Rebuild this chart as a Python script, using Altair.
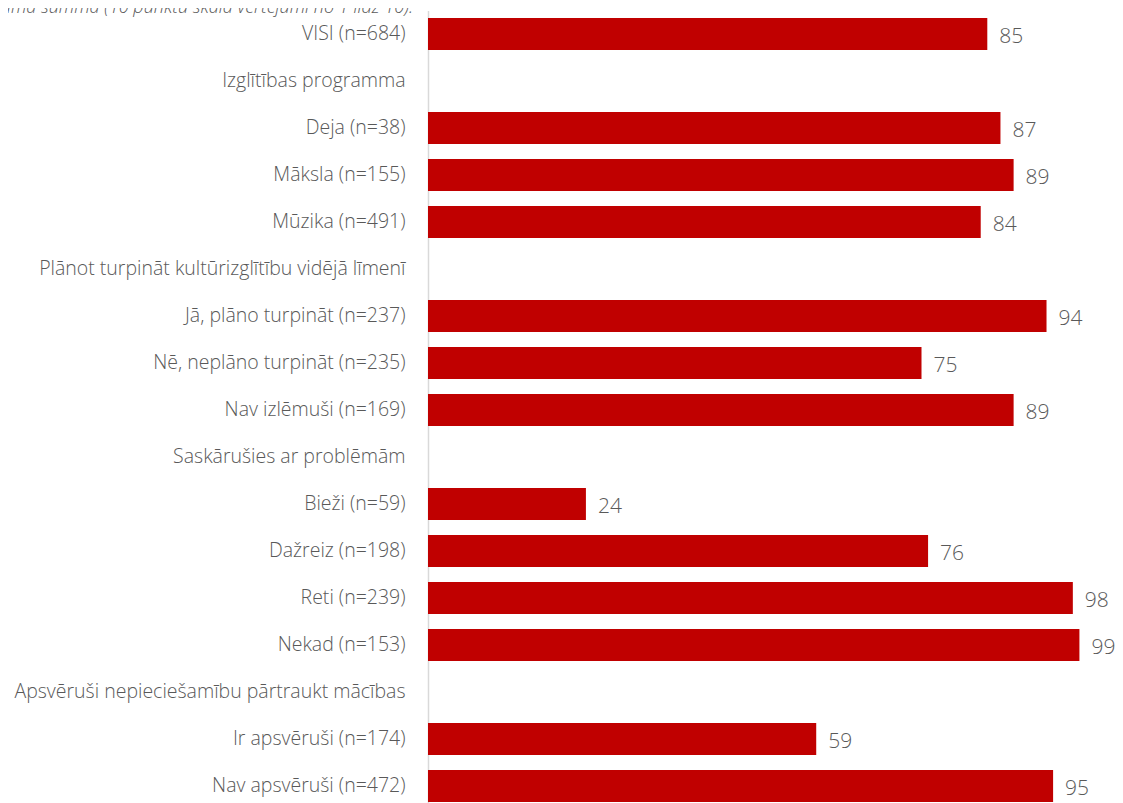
import altair as alt
import pandas as pd

categories = [
    "VISI (n=684)",
    "Izglītības programma",
    "Deja (n=38)",
    "Māksla (n=155)",
    "Mūzika (n=491)",
    "Plānot turpināt kultūrizglītību vidējā līmenī",
    "Jā, plāno turpināt (n=237)",
    "Nē, neplāno turpināt (n=235)",
    "Nav izlēmuši (n=169)",
    "Saskārušies ar problēmām",
    "Bieži (n=59)",
    "Dažreiz (n=198)",
    "Reti (n=239)",
    "Nekad (n=153)",
    "Apsvēruši nepieciešamību pārtraukt mācības",
    "Ir apsvēruši (n=174)",
    "Nav apsvēruši (n=472)",
]
values = [85, None, 87, 89, 84, None, 94, 75, 89, None, 24, 76, 98, 99, None, 59, 95]
title_text = "tējumā summa (10 punktu skalā vērtējumi no 1 līdz 10)."

df = pd.DataFrame({"cat": categories, "val": values})

FONT = "Open Sans"
GREY = "#595959"

y_enc = alt.Y(
    "cat:N",
    sort=categories,
    scale=alt.Scale(domain=categories, paddingInner=0.32, paddingOuter=0.16),
    axis=alt.Axis(
        title=None,
        ticks=False,
        domainColor="#d9d9d9",
        domainWidth=1.5,
        labelFont=FONT,
        labelFontSize=19.5,
        labelFontWeight=300,
        labelColor=GREY,
        labelPadding=23,
        labelLimit=600,
        grid=False,
    ),
)
x_enc = alt.X("val:Q", scale=alt.Scale(domain=[0, 100]), axis=None)

base = alt.Chart(df).transform_filter("isValid(datum.val)")

bars = base.mark_bar(color="#C00000").encode(x=x_enc, y=y_enc)
labels = base.mark_text(
    align="left", baseline="middle", dx=12, dy=3,
    font=FONT, fontSize=21, fontWeight=300, color=GREY,
).encode(x=x_enc, y=y_enc, text="val:Q")

title = alt.Chart(pd.DataFrame({"t": [title_text]})).mark_text(
    align="right", baseline="alphabetic", font=FONT, fontSize=18,
    fontStyle="italic", fontWeight=300, color=GREY,
).encode(x=alt.value(-15), y=alt.value(2.5), text="t:N")

chart = alt.layer(bars, labels, title).properties(
    width=658,
    height=799,
    autosize=alt.AutoSizeParams(type="none"),
    padding={"left": 420, "top": 2.5, "right": 29, "bottom": 5},
).configure_view(stroke=None)

chart.save("out.html", embed_options={"renderer": "svg", "actions": False})
